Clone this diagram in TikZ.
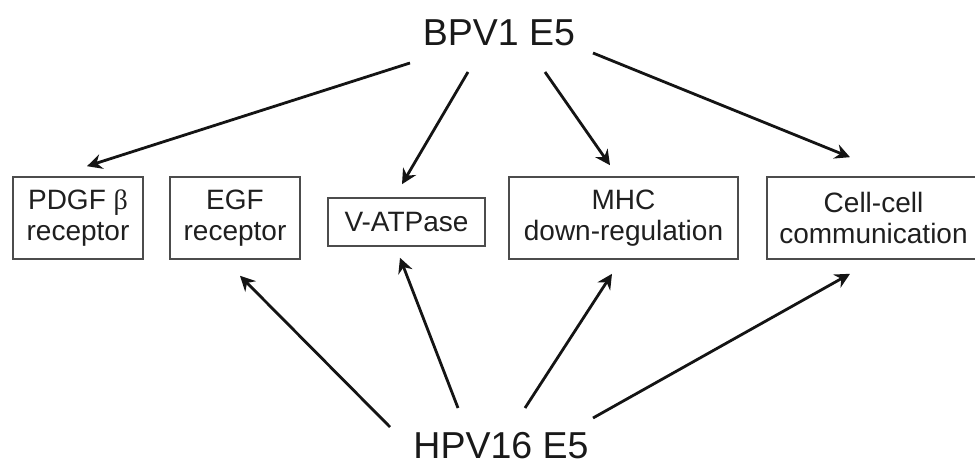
\documentclass[tikz,border=0pt]{standalone}
\usepackage{fontspec}
\setmainfont{Liberation Sans}
\newfontfamily\greekserif{Liberation Serif}
\usetikzlibrary{arrows.meta,calc}

\tikzset{
  virus/.style={font=\fontsize{37.5}{40}\selectfont, text=black!90, inner sep=0pt},
  target/.style={draw=black!70, line width=1.6pt, inner sep=0pt, align=center,
    font=\fontsize{28}{31.5}\selectfont, text=black!88},
  link/.style={line width=2.8pt, black!92,
    -{Stealth[length=15pt,width=15pt,inset=5pt]}}
}

\begin{document}
\begin{tikzpicture}[x=1pt,y=-1pt]
  \useasboundingbox (0,0) rectangle (975,462);

  % the two E5 proteins
  \node[virus] (bpv) at (499,33) {BPV1 E5};
  \node[virus] (hpv) at (501,445.5) {HPV16 E5};

  % cellular targets
  \node[target, minimum width=130pt, minimum height=82pt] (pdgf) at (78,218)
    {PDGF {\greekserif β}\\receptor};
  \node[target, minimum width=130pt, minimum height=82pt] (egf) at (235,218)
    {EGF\\receptor};
  \node[target, minimum width=157pt, minimum height=48pt] (vat) at (406.5,222)
    {V-ATPase};
  \node[target, minimum width=229pt, minimum height=82pt] (mhc) at (623.5,218)
    {MHC\\down-regulation};
  \node[target, minimum width=213pt, minimum height=82pt] (cell) at (873.5,218)
    {Cell-cell\\communication};

  % BPV1 E5 interactions
  \draw[link] ($(bpv)+(-89,30)$) -- ($(pdgf.north)+(9,-10)$);
  \draw[link] ($(bpv)+(-31,39)$) -- ($(vat.north)+(-4.5,-13)$);
  \draw[link] ($(bpv)+(46,39)$)  -- ($(mhc.north)+(-13.5,-11)$);
  \draw[link] ($(bpv)+(94,20)$)  -- ($(cell.north)+(-23.5,-19)$);

  % HPV16 E5 interactions
  \draw[link] ($(hpv)+(-111,-18.5)$) -- ($(egf.south)+(5,16)$);
  \draw[link] ($(hpv)+(-43,-37.5)$)  -- ($(vat.south)+(-6.5,11)$);
  \draw[link] ($(hpv)+(24,-37.5)$)   -- ($(mhc.south)+(-11.5,14)$);
  \draw[link] ($(hpv)+(92,-27.5)$)   -- ($(cell.south)+(-23.5,14)$);
\end{tikzpicture}
\end{document}
